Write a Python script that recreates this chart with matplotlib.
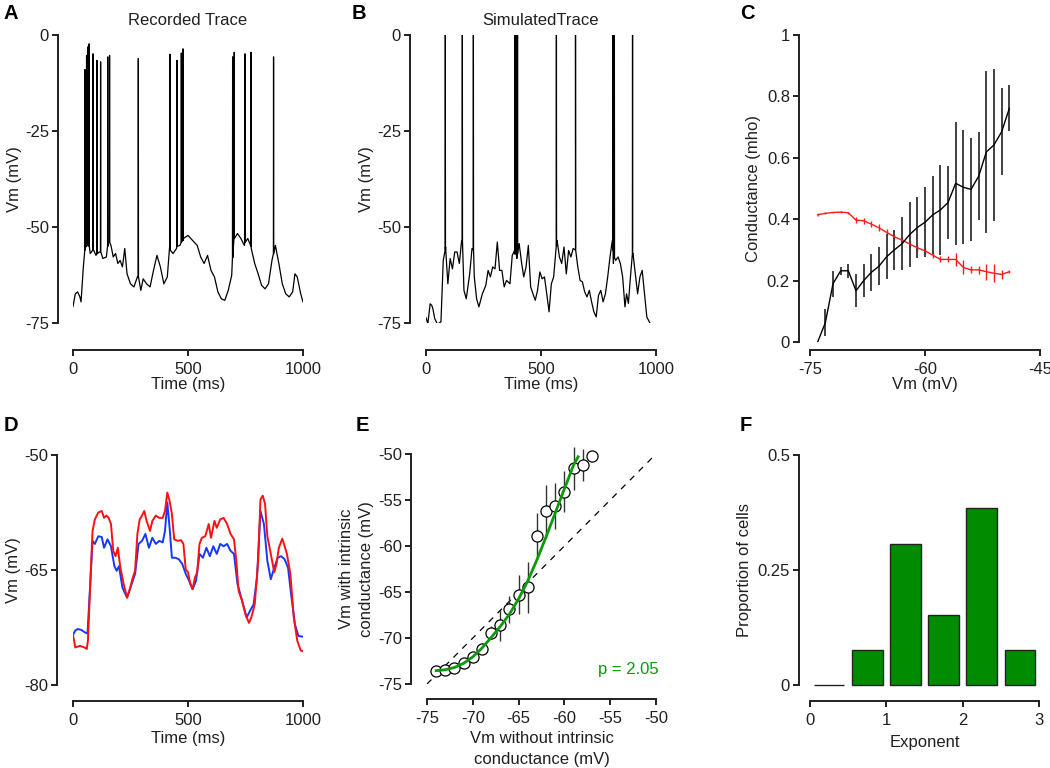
import numpy as np
import matplotlib
matplotlib.use("Agg")
import matplotlib.pyplot as plt

plt.rcParams['font.family'] = ['Liberation Sans', 'DejaVu Sans']
plt.rcParams['axes.unicode_minus'] = False

INK = '#231f20'
FS = 12

# ---- panel A: recorded trace (baseline samples + spikes) ----
a_t = [0, 10, 20, 30, 35, 45, 55, 65, 75, 90, 100, 115, 130, 145, 155, 165, 175, 185, 195, 205,
       215, 225, 235, 250, 265, 280, 295, 305, 320, 335, 350, 365, 380, 395, 410, 420, 435, 450,
       465, 480, 500, 520, 540, 555, 570, 585, 600, 615, 630, 645, 660, 675, 690, 700, 715, 730,
       745, 760, 775, 790, 805, 820, 835, 850, 865, 880, 895, 910, 925, 940, 955, 965, 975, 990, 1000]
a_v = [-70.7, -67.4, -66.9, -68.2, -69.5, -60.4, -55.2, -54.3, -56.9, -56.1, -57.4, -56.5, -58.2,
       -57.8, -53.9, -54.8, -57.8, -56.9, -59.5, -58.7, -60.4, -55.6, -62.2, -64.8, -65.6, -63.0,
       -66.5, -63.5, -64.8, -65.6, -61.3, -57.4, -60.4, -64.8, -63.0, -55.2, -56.9, -55.6, -54.8,
       -53.0, -52.2, -53.5, -54.8, -57.8, -59.5, -57.4, -61.3, -63.0, -66.9, -68.7, -69.1, -66.5,
       -62.6, -52.6, -51.7, -53.0, -54.8, -53.0, -55.6, -59.5, -62.2, -65.2, -66.1, -64.8, -58.7,
       -54.8, -59.5, -64.8, -67.4, -68.2, -66.9, -62.2, -63.0, -67.4, -69.5]
a_spk_t = [52, 59, 64, 70, 87, 104, 120, 151, 159, 284, 422, 452, 471, 478, 694, 701, 748, 774, 872]
a_spk_peak = [-9.0, -5.3, -3.1, -2.3, -4.9, -6.6, -7.0, -5.7, -5.3, -6.1, -5.0, -6.6, -4.7, -3.6,
              -5.7, -4.5, -4.9, -4.5, -5.7]
a_spk_foot = [-56, -55, -54.5, -55, -56, -57, -56.5, -55, -54, -63, -56, -55, -54, -53.5,
              -58, -53, -54, -55, -57]

# ---- panel B: simulated trace ----
b_t = [0, 8, 18, 25, 30, 38, 50, 65, 75, 85, 95, 105, 115, 125, 135, 145, 155, 165, 175, 190,
       200, 210, 220, 230, 245, 260, 270, 280, 290, 300, 310, 320, 330, 340, 350, 365, 375, 385,
       395, 405, 415, 425, 435, 445, 455, 465, 475, 485, 495, 505, 515, 525, 535, 545, 555, 570,
       580, 590, 600, 610, 620, 630, 640, 650, 660, 670, 680, 690, 700, 710, 720, 730, 740, 750,
       760, 770, 780, 790, 800, 810, 815, 825, 835, 845, 855, 865, 872, 880, 890, 900, 910, 920,
       930, 940, 950, 960, 975, 1000]
b_v = [-73.6, -75.2, -70.0, -70.4, -71.3, -73.9, -75.3, -74.7, -58.7, -55.2, -64.8, -58.2, -60.9,
       -56.5, -56.5, -59.5, -53.5, -66.5, -68.7, -62.2, -55.6, -63.0, -68.7, -70.8, -67.4, -65.2,
       -61.3, -63.0, -60.4, -60.9, -53.9, -61.3, -61.3, -65.6, -63.9, -64.8, -57.4, -56.1, -58.2,
       -54.3, -59.1, -63.0, -60.4, -54.8, -65.6, -67.4, -69.1, -66.5, -61.7, -63.5, -63.0, -67.4,
       -72.1, -64.8, -63.0, -53.5, -57.8, -59.5, -55.2, -62.2, -56.1, -57.8, -55.6, -55.6, -60.4,
       -63.9, -64.3, -66.9, -68.2, -66.5, -69.5, -72.1, -73.4, -67.8, -66.5, -69.5, -67.4, -63.0,
       -57.8, -53.5, -59.5, -58.7, -57.8, -59.5, -63.0, -70.8, -67.4, -69.9, -62.2, -56.9, -62.2,
       -67.4, -63.0, -61.3, -67.4, -73.4, -75.2, -75.6]
b_spk_t = [84, 158, 206, 386, 392, 398, 567, 650, 813, 816, 819, 898]
b_spk_peak = [5, 5, 5, 5, 5, 5, 5, 5, 5, 5, 5, 5]
b_spk_foot = [-56, -54, -56, -57, -57, -57, -55, -56, -56, -57, -58, -57]

# ---- panel C: conductance vs Vm ----
c_vm = [-74, -73, -72, -71, -70, -69, -68, -67, -66, -65, -64, -63, -62, -61, -60, -59, -58,
        -57, -56, -55, -54, -53, -52, -51, -50, -49]
c_black = [0.0, 0.063, 0.19, 0.232, 0.232, 0.167, 0.20, 0.227, 0.247, 0.278, 0.30, 0.32, 0.35,
           0.373, 0.39, 0.414, 0.43, 0.454, 0.517, 0.504, 0.497, 0.54, 0.619, 0.642, 0.685, 0.761]
c_black_err = [0.0, 0.044, 0.042, 0.013, 0.022, 0.053, 0.055, 0.06, 0.061, 0.074, 0.065, 0.087,
               0.106, 0.10, 0.114, 0.126, 0.147, 0.12, 0.20, 0.185, 0.168, 0.144, 0.265, 0.247,
               0.141, 0.075]
c_red = [0.415, 0.419, 0.422, 0.423, 0.421, 0.397, 0.395, 0.384, 0.372, 0.357, 0.343, 0.332,
         0.319, 0.307, 0.297, 0.283, 0.269, 0.269, 0.269, 0.243, 0.235, 0.235, 0.229, 0.224,
         0.22, 0.229]
c_red_err = [0.003, 0.003, 0.003, 0.003, 0.003, 0.009, 0.01, 0.01, 0.012, 0.01, 0.01, 0.01, 0.01,
             0.01, 0.01, 0.01, 0.01, 0.01, 0.02, 0.023, 0.011, 0.013, 0.026, 0.03, 0.015, 0.005]

# ---- panel D: Vm with / without intrinsic conductance ----
d_t_red = [0, 10, 30, 50, 60, 65, 75, 85, 95, 110, 125, 135, 145, 155, 165, 175, 185, 195, 205,
           220, 235, 245, 260, 270, 280, 290, 300, 310, 320, 335, 345, 360, 375, 390, 400, 410,
           420, 430, 440, 455, 470, 480, 490, 500, 510, 520, 530, 540, 550, 560, 575, 590, 600,
           615, 625, 640, 655, 670, 685, 700, 710, 720, 735, 750, 765, 775, 790, 805, 815, 825,
           835, 845, 860, 875, 885, 895, 910, 920, 930, 945, 960, 975, 990, 1000]
d_red = [-73.45, -75.1, -74.9, -75.1, -75.3, -74.2, -66.8, -59.9, -58.4, -57.5, -57.3, -58.2,
         -57.9, -58.2, -59.0, -62.5, -63.2, -62.1, -64.5, -66.8, -68.6, -67.7, -66.0, -65.1, -60.3,
         -58.4, -57.9, -57.3, -58.6, -59.9, -58.6, -57.9, -58.2, -58.2, -57.3, -54.9, -56.0, -57.7,
         -61.0, -61.2, -61.1, -61.6, -64.9, -65.3, -66.8, -67.5, -66.0, -65.3, -61.6, -60.8, -60.6,
         -59.0, -60.8, -58.6, -59.5, -58.4, -58.2, -59.0, -60.3, -61.0, -63.8, -67.7, -69.0, -70.8,
         -71.9, -71.2, -69.5, -63.8, -55.8, -55.3, -56.4, -60.6, -62.9, -65.3, -64.2, -62.1, -60.9,
         -61.9, -62.9, -65.5, -71.2, -74.2, -75.5, -75.6]
d_t_blue = [0, 10, 20, 35, 50, 63, 75, 85, 95, 110, 125, 135, 150, 165, 180, 190, 200, 215, 235,
            250, 270, 285, 300, 315, 330, 345, 360, 375, 390, 400, 410, 420, 430, 445, 460, 475,
            490, 505, 520, 535, 550, 565, 580, 595, 610, 625, 640, 655, 670, 685, 700, 715, 735,
            755, 770, 785, 800, 815, 830, 845, 860, 875, 890, 905, 920, 935, 950, 965, 980, 1000]
d_blue = [-73.45, -72.9, -72.7, -72.8, -73.1, -73.3, -66.8, -61.2, -61.6, -60.6, -60.7, -62.1,
          -61.0, -61.9, -64.5, -65.1, -64.5, -67.3, -68.6, -67.3, -65.5, -61.6, -61.2, -60.3,
          -62.1, -60.8, -61.6, -61.2, -61.4, -59.9, -56.2, -59.5, -63.4, -63.4, -63.6, -64.2,
          -65.5, -66.4, -67.5, -66.4, -62.9, -63.4, -62.1, -63.2, -61.9, -62.9, -61.6, -61.9,
          -61.6, -62.5, -62.9, -66.8, -69.0, -71.2, -70.3, -69.5, -66.0, -57.3, -59.0, -63.8,
          -66.2, -64.7, -63.4, -63.2, -63.6, -64.7, -68.6, -72.1, -73.6, -73.7]

# ---- panel E: Vm with vs without intrinsic conductance ----
e_x = [-74, -73, -72, -71, -70, -69, -68, -67, -66, -65, -64, -63, -62, -61, -60, -59, -58, -57]
e_y = [-73.62, -73.48, -73.26, -72.75, -72.1, -71.16, -69.42, -68.62, -66.88, -65.29, -64.49,
       -58.91, -56.23, -55.69, -54.09, -51.56, -51.2, -50.25]
e_err = [0.3, 0.3, 0.3, 0.4, 0.5, 0.6, 0.7, 1.7, 1.45, 2.1, 2.8, 2.5, 2.9, 2.5, 2.2, 2.3, 1.7, 0.0]
e_fit_x = [-74, -73, -72, -71, -70, -69, -68, -67, -66, -65, -64, -63, -62, -61, -60, -59, -58.5]
e_fit_y = [-73.55, -73.45, -73.2, -72.75, -72.05, -71.1, -69.95, -68.75, -67.4, -65.75, -63.8,
           -61.5, -59.0, -56.4, -53.8, -51.2, -50.3]
e_p_label = "p = 2.05"

# ---- panel F: exponent histogram ----
f_centers = [0.25, 0.75, 1.25, 1.75, 2.25, 2.75]
f_props = [0.0, 0.076, 0.307, 0.153, 0.384, 0.076]

GREEN = '#008c00'
W, H = 1050, 768


def make_ax(x0, x1, y_top, y_bot):
    return fig.add_axes([x0 / W, 1 - y_bot / H, (x1 - x0) / W, (y_bot - y_top) / H])


def style(ax, left_out, bottom_out):
    for s in ['top', 'right']:
        ax.spines[s].set_visible(False)
    ax.spines['left'].set_position(('outward', left_out * 0.72))
    ax.spines['bottom'].set_position(('outward', bottom_out * 0.72))
    for s in ['left', 'bottom']:
        ax.spines[s].set_linewidth(1.4)
        ax.spines[s].set_color(INK)
    ax.tick_params(direction='out', length=4, width=1.4, color=INK, labelcolor=INK,
                   labelsize=FS, pad=2.5)
    ax.tick_params(axis='x', pad=4.5)
    ax.patch.set_visible(False)


def trace(t, v, st, sp, sf):
    pts = list(zip(t, v))
    for ti, pk, ft in zip(st, sp, sf):
        pts += [(ti - 0.7, ft), (ti, pk), (ti + 0.7, ft)]
    pts.sort()
    return [p[0] for p in pts], [p[1] for p in pts]


fig = plt.figure(figsize=(10.5, 7.68), dpi=100)

# A
axA = make_ax(73, 303, 35, 323)
tt, vv = trace(a_t, a_v, a_spk_t, a_spk_peak, a_spk_foot)
axA.plot(tt, vv, color='k', lw=0.9)
axA.set_xlim(0, 1000)
axA.set_ylim(-75, 0)
axA.set_xticks([0, 500, 1000])
axA.set_yticks([0, -25, -50, -75])
style(axA, 15, 27)
axA.set_xlabel('Time (ms)', fontsize=FS, color=INK, labelpad=0)
axA.set_ylabel('Vm (mV)', fontsize=FS, color=INK, labelpad=2)
axA.set_title('Recorded Trace', fontsize=FS, color=INK, pad=7)

# B
axB = make_ax(426, 656, 35, 323)
tt, vv = trace(b_t, b_v, b_spk_t, b_spk_peak, b_spk_foot)
axB.plot(tt, vv, color='k', lw=0.9)
axB.set_xlim(0, 1000)
axB.set_ylim(-75, 0)
axB.set_xticks([0, 500, 1000])
axB.set_yticks([0, -25, -50, -75])
style(axB, 16, 27)
axB.set_xlabel('Time (ms)', fontsize=FS, color=INK, labelpad=0)
axB.set_ylabel('Vm (mV)', fontsize=FS, color=INK, labelpad=2)
axB.set_title('SimulatedTrace', fontsize=FS, color=INK, pad=7)

# C
axC = make_ax(810, 1040, 35, 342)
axC.errorbar(c_vm, c_red, yerr=c_red_err, color='#ff1a1a', lw=1.0, elinewidth=1.0)
axC.errorbar(c_vm, c_black, yerr=c_black_err, color='k', lw=1.0, elinewidth=1.3, ecolor='#333333')
axC.set_xlim(-75, -45)
axC.set_ylim(0, 1)
axC.set_xticks([-75, -60, -45])
axC.set_yticks([0, 0.2, 0.4, 0.6, 0.8, 1])
axC.set_yticklabels(['0', '0.2', '0.4', '0.6', '0.8', '1'])
style(axC, 11, 8)
axC.set_xlabel('Vm (mV)', fontsize=FS, color=INK, labelpad=0)
axC.set_ylabel('Conductance (mho)', fontsize=FS, color=INK, labelpad=4)

# D
axD = make_ax(73, 303, 455, 685)
axD.plot(d_t_blue, d_blue, color='#1438ff', lw=1.4)
axD.plot(d_t_red, d_red, color='#ff1010', lw=1.4)
axD.set_xlim(0, 1000)
axD.set_ylim(-80, -50)
axD.set_xticks([0, 500, 1000])
axD.set_yticks([-50, -65, -80])
style(axD, 16, 16)
axD.set_xlabel('Time (ms)', fontsize=FS, color=INK, labelpad=2)
axD.set_ylabel('Vm (mV)', fontsize=FS, color=INK, labelpad=2)

# E
axE = make_ax(427, 656, 454, 684)
axE.plot([-75, -50], [-75, -50], color='k', lw=0.9, dashes=(5, 5))
axE.errorbar(e_x, e_y, yerr=e_err, fmt='none', ecolor='#333333', elinewidth=1.0, clip_on=False)
axE.plot(e_x, e_y, 'o', ms=8, mfc='white', mec='k', mew=0.9, clip_on=False)
axE.plot(e_fit_x, e_fit_y, color='#0a9a0a', lw=2.0)
axE.text(-49.7, -73.4, e_p_label, color='#0a9a0a', fontsize=FS, ha='right', va='center')
axE.set_xlim(-75, -50)
axE.set_ylim(-75, -50)
axE.set_xticks([-75, -70, -65, -60, -55, -50])
axE.set_yticks([-75, -70, -65, -60, -55, -50])
style(axE, 16, 15)
axE.set_xlabel('Vm without intrinsic\nconductance (mV)', fontsize=FS, color=INK, labelpad=4,
               linespacing=1.45)
axE.set_ylabel('Vm with intrinsic\nconductance (mV)', fontsize=FS, color=INK, labelpad=3,
               linespacing=1.4)

# F
axF = make_ax(810, 1039, 455, 685)
axF.bar(f_centers, f_props, width=0.4, color=GREEN, edgecolor='#222222', lw=1.0, clip_on=False)
axF.set_xlim(0, 3)
axF.set_ylim(0, 0.5)
axF.set_xticks([0, 1, 2, 3])
axF.set_yticks([0, 0.25, 0.5])
axF.set_yticklabels(['0', '0.25', '0.5'])
style(axF, 11, 16)
axF.set_xlabel('Exponent', fontsize=FS, color=INK, labelpad=5)
axF.set_ylabel('Proportion of cells', fontsize=FS, color=INK, labelpad=4)

# panel letters
for lab, x, y in [('A', 4, 4), ('B', 352, 4), ('C', 740, 4),
                  ('D', 4, 416), ('E', 356, 416), ('F', 740, 416)]:
    fig.text(x / W, 1 - y / H, lab, fontsize=14.5, fontweight='bold', color='k',
             ha='left', va='top')

fig.savefig('out.png', dpi=100)
